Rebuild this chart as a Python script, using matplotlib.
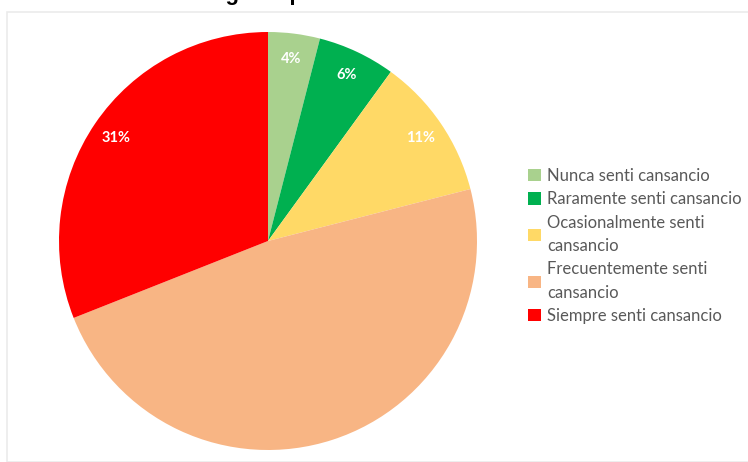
import matplotlib.pyplot as plt
import numpy as np
from matplotlib.patches import Patch, Rectangle

# Frecuencia de cansancio reportada (%)
categorias = ["Nunca senti cansancio", "Raramente senti cansancio",
              "Ocasionalmente senti\ncansancio", "Frecuentemente senti\ncansancio",
              "Siempre senti cansancio"]
porcentajes = [4, 6, 11, 48, 31]
colores = ["#A9D18E", "#00B050", "#FFD966", "#F8B584", "#FF0000"]
etiquetas = ["4%", "6%", "11%", "", "31%"]

W, H = 748, 462
fig = plt.figure(figsize=(W / 100, H / 100), dpi=100)

# marco gris claro del grafico
fig.patches.append(Rectangle((7 / W, 0), 1, 1 - 12 / H, transform=fig.transFigure,
                             fill=False, edgecolor="#ebebeb", linewidth=1.2))

cx, cy, r = 268, 241, 209
ax = fig.add_axes([(cx - r) / W, (H - cy - r) / H, 2 * r / W, 2 * r / H])
wedges, _ = ax.pie(porcentajes, colors=colores, startangle=90, counterclock=False,
                   radius=1.0, wedgeprops=dict(linewidth=0))
ax.set_xlim(-1, 1)
ax.set_ylim(-1, 1)
ax.set_aspect("auto")
ax.axis("off")

# etiquetas de porcentaje dentro de cada sector
acum = 0
for p, txt in zip(porcentajes, etiquetas):
    mid = 90 - (acum + p / 2) * 3.6
    acum += p
    if not txt:
        continue
    a = np.deg2rad(mid)
    ax.text(0.88 * np.cos(a), 0.88 * np.sin(a), txt, color="white", fontsize=10.5,
            fontweight="bold", ha="center", va="center", family="Lato")

# titulo (queda recortado en el borde superior)
fig.text(186 / W, 1 + 0.5 / H, "Fatiga en prácticas", fontsize=16, fontweight="bold",
         family="Liberation Sans", ha="left", va="baseline")

handles = [Patch(facecolor=c, edgecolor="none") for c in colores]
leg = fig.legend(handles, categorias, loc="upper left",
                 bbox_to_anchor=(528 / W, 1 - 168 / H), frameon=False,
                 prop=dict(family="Lato", size=12), labelcolor="#595959",
                 handlelength=0.8, handleheight=0.75, handletextpad=0.35,
                 labelspacing=0.44, borderaxespad=0, borderpad=0)
for t in leg.get_texts():
    t.set_linespacing(1.56)

fig.savefig("out.png", dpi=100)
